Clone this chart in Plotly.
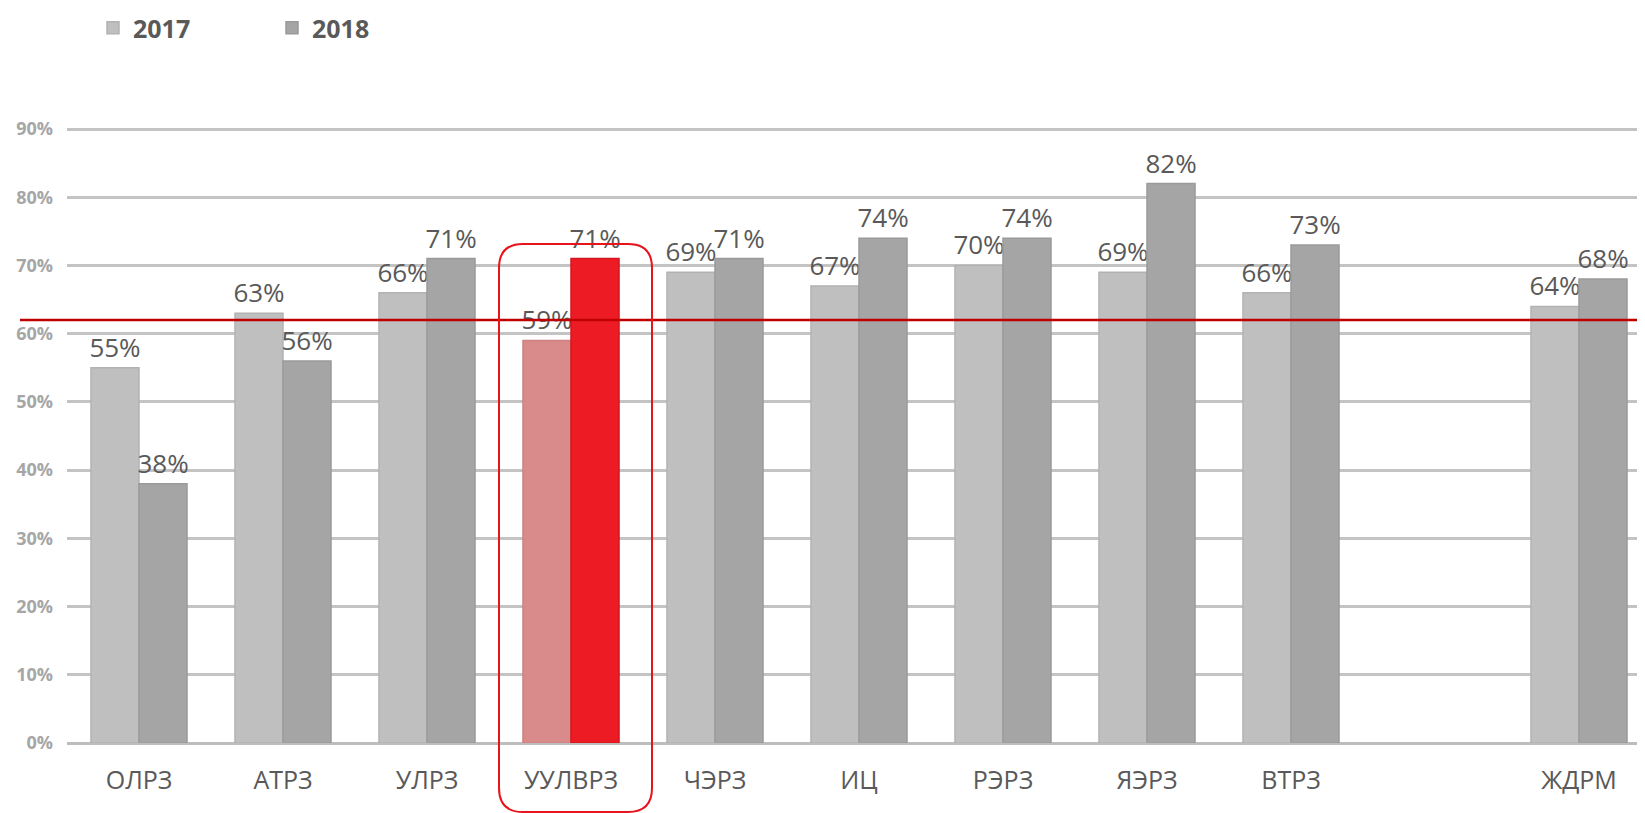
import plotly.graph_objects as go

categories = ["ОЛРЗ", "АТРЗ", "УЛРЗ", "УУЛВРЗ", "ЧЭРЗ", "ИЦ", "РЭРЗ", "ЯЭРЗ", "ВТРЗ", " ", "ЖДРМ"]
values_2017 = [55, 63, 66, 59, 69, 67, 70, 69, 66, None, 64]
values_2018 = [38, 56, 71, 71, 71, 74, 74, 82, 73, None, 68]
labels_2017 = ["55%", "63%", "66%", "59%", "69%", "67%", "70%", "69%", "66%", "", "64%"]
labels_2018 = ["38%", "56%", "71%", "71%", "71%", "74%", "74%", "82%", "73%", "", "68%"]
target_line = 62
highlight = "УУЛВРЗ"
y_ticks = [0, 10, 20, 30, 40, 50, 60, 70, 80, 90]
y_ticktext = [f"{v}%" for v in y_ticks]

OFF = 8  # browser body margin
W, H = 1645 - OFF, 813 - OFF
ML, MR, MB = 67 - OFF, 0, 813 - 743
PW = W - ML - MR
SCALE = (743 - 129) / 90.0           # px per percent
MT = 114
PH = H - MT - MB
YMAX = PH / SCALE
SPACING = 144.0

c17 = ["#d98b8b" if c == highlight else "#bfbfbf" for c in categories]
c18 = ["#ed1c24" if c == highlight else "#a5a5a5" for c in categories]
l17 = ["#cf8080" if c == highlight else "#b2b2b2" for c in categories]
l18 = ["#d8141c" if c == highlight else "#9a9a9a" for c in categories]

label_font = dict(family="Open Sans", size=26, color="#595959")

fig = go.Figure()
fig.add_trace(go.Bar(
    name="2017", x=categories, y=values_2017, text=labels_2017,
    textposition="outside", cliponaxis=False, constraintext="none",
    textfont=label_font,
    marker=dict(color=c17, line=dict(color=l17, width=1.5)),
))
fig.add_trace(go.Bar(
    name="2018", x=categories, y=values_2018, text=labels_2018,
    textposition="outside", cliponaxis=False, constraintext="none",
    textfont=label_font,
    marker=dict(color=c18, line=dict(color=l18, width=1.5)),
))

def px(sx):
    return (sx - OFF - ML) / PW

def py(sy):
    return (MT + PH - (sy - OFF)) / PH

# rounded highlight box (screen-pixel geometry converted to paper)
x0, x1, y0, y1, r = 499, 652, 244, 812, 24
path = (
    f"M {px(x0 + r)},{py(y0)} L {px(x1 - r)},{py(y0)} "
    f"Q {px(x1)},{py(y0)} {px(x1)},{py(y0 + r)} "
    f"L {px(x1)},{py(y1 - r)} Q {px(x1)},{py(y1)} {px(x1 - r)},{py(y1)} "
    f"L {px(x0 + r)},{py(y1)} Q {px(x0)},{py(y1)} {px(x0)},{py(y1 - r)} "
    f"L {px(x0)},{py(y0 + r)} Q {px(x0)},{py(y0)} {px(x0 + r)},{py(y0)} Z"
)

fig.update_layout(
    width=W, height=H,
    margin=dict(l=ML, r=MR, t=MT, b=MB, pad=0, autoexpand=False),
    paper_bgcolor="white", plot_bgcolor="white",
    barmode="group", bargap=0.333, bargroupgap=0,
    font=dict(family="Open Sans", color="#595959"),
    legend=dict(
        orientation="h", x=px(93), y=py(5), xanchor="left", yanchor="top",
        font=dict(family="Open Sans", size=25, color="#595959", weight="bold"),
        entrywidth=134, entrywidthmode="pixels", itemwidth=30,
        bgcolor="rgba(0,0,0,0)",
    ),
    xaxis=dict(
        type="category", categoryorder="array", categoryarray=categories,
        range=[-0.5, -0.5 + PW / SPACING],
        showgrid=False, showline=False, zeroline=False,
        ticks="", ticklabelstandoff=20,
        tickfont=dict(family="Open Sans", size=25, color="#595959"),
    ),
    yaxis=dict(
        range=[0, YMAX], tickvals=y_ticks, ticktext=y_ticktext,
        showgrid=True, gridcolor="#c4c4c4", gridwidth=3,
        zeroline=True, zerolinecolor="#bdbdbd", zerolinewidth=3,
        showline=False, ticks="", ticklabelstandoff=13,
        tickfont=dict(family="Open Sans", size=18, color="#a6a6a6", weight="bold"),
    ),
    shapes=[
        dict(type="line", xref="paper", yref="y", x0=px(20), x1=1,
             y0=target_line, y1=target_line, line=dict(color="#c00000", width=2.5),
             layer="above"),
        dict(type="path", xref="paper", yref="paper", path=path,
             line=dict(color="#e8141c", width=2), fillcolor="rgba(0,0,0,0)",
             layer="above"),
    ],
)

fig.write_html("out.html")
